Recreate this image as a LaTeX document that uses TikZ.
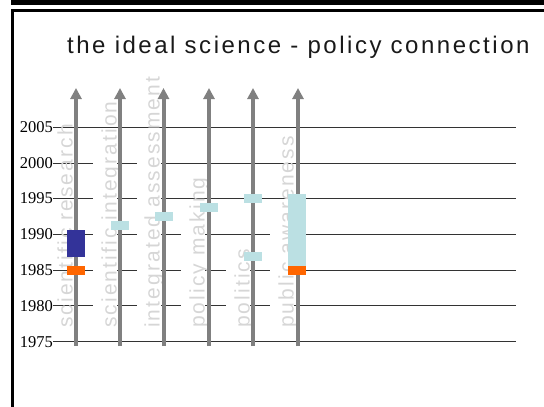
\documentclass[tikz,border=0pt]{standalone}
\usepackage{fontspec}
\setmainfont{Liberation Serif}
\newfontfamily\titlefont[LetterSpace=10.5]{Liberation Sans}
\newfontfamily\labelfont[LetterSpace=10]{Liberation Sans}
\usetikzlibrary{arrows.meta}
\definecolor{ppblue}{HTML}{333399}
\definecolor{pporange}{HTML}{FF6600}
\definecolor{ppcyan}{HTML}{BBE0E3}
\definecolor{labelgray}{HTML}{D6D6D6}
\definecolor{axisgray}{HTML}{808080}
\tikzset{
  yearlabel/.style={anchor=east,inner sep=0pt,font=\fontsize{16.5}{18}\selectfont},
  yearline/.style={draw=black!80,line width=1pt},
  vlabel/.style={anchor=base west,rotate=90,inner sep=0pt,text=labelgray,font=\labelfont\fontsize{21}{23}\selectfont},
  axisarrow/.style={draw=axisgray,line width=4pt,-{Triangle[width=11pt,length=11pt]}},
}
\begin{document}
\begin{tikzpicture}[x=1pt,y=-1pt]
\useasboundingbox (0,0) rectangle (544,407);
% frame
\fill[black] (11,0) rectangle (544,5);
\draw[black,line width=3pt] (544,10.5) -- (12.5,10.5) -- (12.5,407);
% title
\node[anchor=base west,inner sep=0pt,text=black!90,font=\titlefont\fontsize{24}{27}\selectfont] (title) at (67,53) {the ideal science - policy connection};
% year labels
\foreach \yr/\yy in {2005/127.5,2000/163,1995/198.5,1990/234.3,1985/270,1980/305.8,1975/341.8}{
  \node[yearlabel] (y\yr) at (53,\yy) {\yr};
}
% year lines (interrupted where labels stand)
\draw[yearline] (y2005.east) -- (516,127.5);
\draw[yearline] (y1975.east) -- (516,341.8);
\foreach \yr/\yy in {2000/163,1995/198.5}{
  \draw[yearline] (y\yr.east) -- (93,\yy) (117,\yy) -- (137,\yy) (161,\yy) -- (516,\yy);
}
\draw[yearline] (y1990.east) -- (93,234.3) (117,234.3) -- (137,234.3) (161,234.3) -- (181,234.3) (205,234.3) -- (270,234.3) (288,234.3) -- (516,234.3);
\draw[yearline] (y1985.east) -- (93,270) (117,270) -- (137,270) (161,270) -- (181,270) (205,270) -- (226,270) (250,270) -- (270,270) (288,270) -- (516,270);
\draw[yearline] (y1980.east) -- (93,305.8) (117,305.8) -- (137,305.8) (161,305.8) -- (181,305.8) (205,305.8) -- (226,305.8) (250,305.8) -- (270,305.8) (294,305.8) -- (516,305.8);
% vertical labels
\node[vlabel] (l1) at (72.5,328) {scientific research};
\node[vlabel] (l2) at (116.5,328) {scientific integration};
\node[vlabel] (l3) at (159.5,328) {integrated assessment};
\node[vlabel] (l4) at (204.5,328) {policy making};
\node[vlabel] (l5) at (249.5,328) {politics};
\node[vlabel] (l6) at (293.5,328) {public awareness};
% arrows
\foreach \i/\x in {1/76,2/120,3/163.5,4/209,5/253,6/298}{
  \coordinate (b\i) at (\x,346);
  \coordinate (t\i) at (\x,88);
  \draw[axisarrow] (b\i) -- (t\i);
}
% bars
\fill[ppblue] (67,230) rectangle (85,257);
\fill[pporange] (67,266) rectangle (85,275);
\fill[ppcyan] (111,221) rectangle (129,230);
\fill[ppcyan] (155,212) rectangle (173,221);
\fill[ppcyan] (200,203) rectangle (218,212);
\fill[ppcyan] (244,194) rectangle (262,203);
\fill[ppcyan] (244,252) rectangle (262,261);
\fill[ppcyan] (288,194) rectangle (306,266);
\fill[pporange] (288,266) rectangle (306,275);
\end{tikzpicture}
\end{document}
